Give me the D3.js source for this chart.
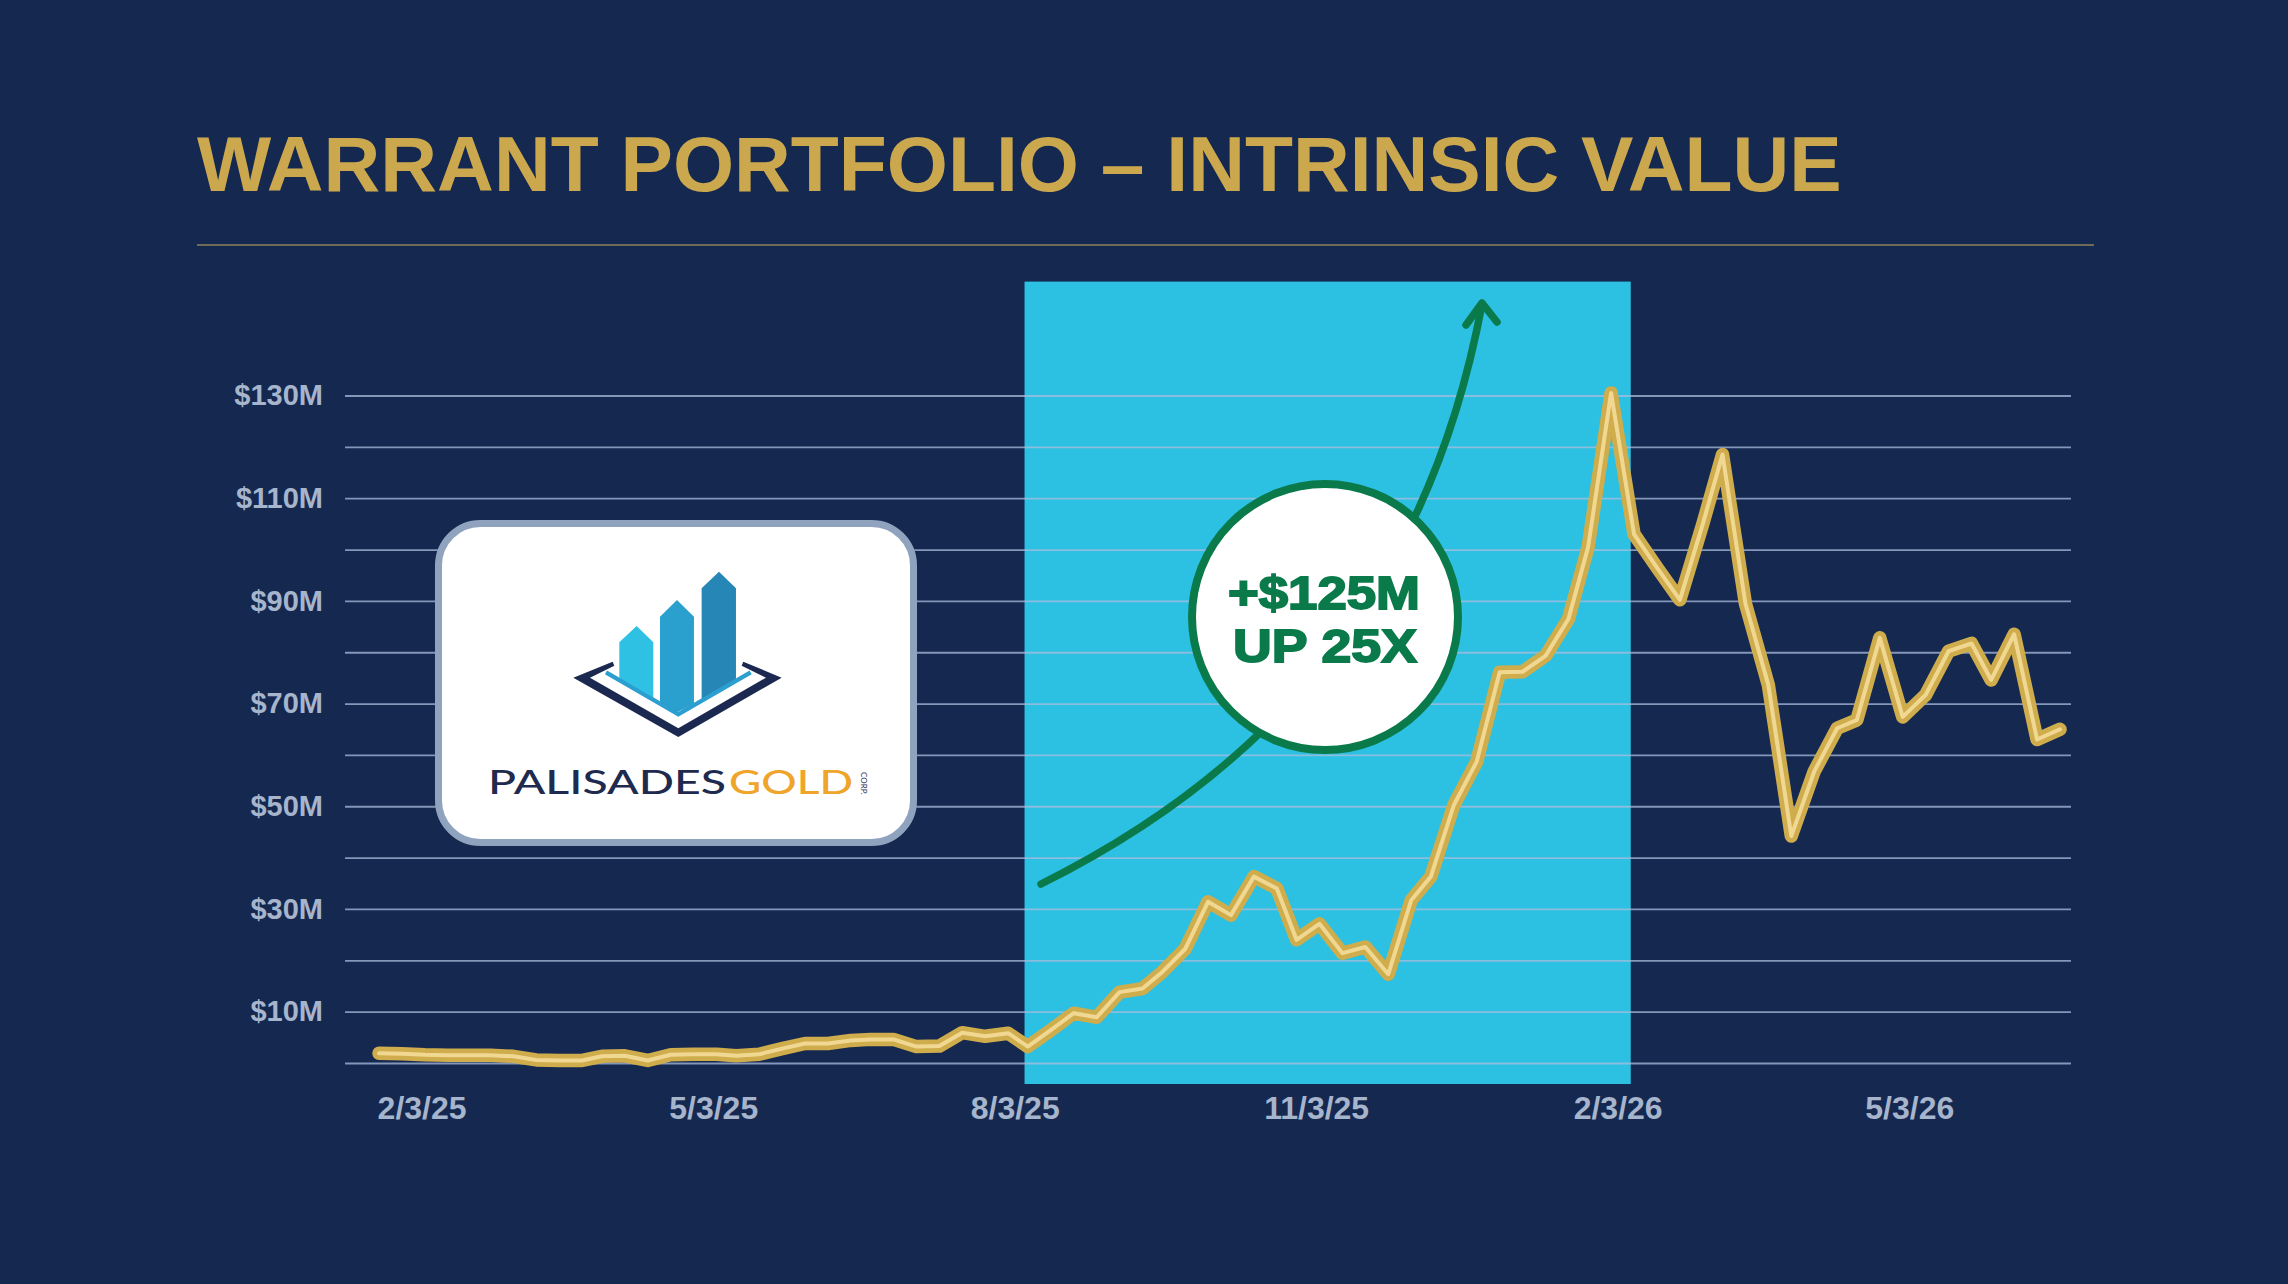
<!DOCTYPE html>
<html>
<head>
<meta charset="utf-8">
<script src="https://cdn.jsdelivr.net/npm/d3@7"></script>
<style>
  html, body { margin: 0; padding: 0; background: #152850; }
  svg { display: block; }
</style>
</head>
<body>
<div id="chart"></div>
<script>
// weekly-ish observations of intrinsic value ($M)
const dates = [
  "2025-01-21", "2025-01-28", "2025-02-04", "2025-02-11", "2025-02-17", "2025-02-24",
  "2025-03-03", "2025-03-10", "2025-03-17", "2025-03-24", "2025-03-30", "2025-04-06",
  "2025-04-13", "2025-04-20", "2025-04-27", "2025-05-04", "2025-05-10", "2025-05-17",
  "2025-05-24", "2025-05-31", "2025-06-07", "2025-06-14", "2025-06-20", "2025-06-27",
  "2025-07-04", "2025-07-11", "2025-07-18", "2025-07-25", "2025-08-01", "2025-08-07",
  "2025-08-14", "2025-08-21", "2025-08-28", "2025-09-04", "2025-09-11", "2025-09-17",
  "2025-09-24", "2025-10-01", "2025-10-08", "2025-10-15", "2025-10-22", "2025-10-28",
  "2025-11-04", "2025-11-11", "2025-11-18", "2025-11-25", "2025-12-02", "2025-12-08",
  "2025-12-15", "2025-12-22", "2025-12-29", "2026-01-05", "2026-01-12", "2026-01-19",
  "2026-01-25", "2026-02-01", "2026-02-08", "2026-02-15", "2026-02-22", "2026-03-01",
  "2026-03-07", "2026-03-14", "2026-03-21", "2026-03-28", "2026-04-04", "2026-04-11",
  "2026-04-17", "2026-04-24", "2026-05-01", "2026-05-08", "2026-05-15", "2026-05-22",
  "2026-05-28", "2026-06-04", "2026-06-11", "2026-06-18"
];
const values = [
  1.9, 1.8, 1.6, 1.5, 1.5, 1.5, 1.3, 0.6, 0.5, 0.5,
  1.3, 1.4, 0.5, 1.6, 1.7, 1.7, 1.4, 1.7, 2.8, 3.8,
  3.8, 4.4, 4.6, 4.6, 3.2, 3.3, 5.9, 5.2, 5.8, 3.2,
  6.4, 9.7, 8.9, 13.8, 14.5, 17.7, 22.2, 31.4, 28.8, 36.3,
  34.0, 24.0, 27.1, 21.4, 22.6, 17.3, 31.7, 36.3, 50.2, 58.7,
  76.1, 76.2, 79.3, 86.5, 100.5, 130.5, 103.0, 96.5, 90.2, 105.0,
  118.5, 89.5, 73.6, 44.2, 56.8, 65.2, 66.8, 82.8, 67.4, 71.7,
  80.2, 81.7, 74.6, 83.5, 63.0, 65.0
];
const yLabelTicks = [10, 30, 50, 70, 90, 110, 130];
const gridTicks = [0, 10, 20, 30, 40, 50, 60, 70, 80, 90, 100, 110, 120, 130];
const xTickDates = ["2025-02-03", "2025-05-03", "2025-08-03", "2025-11-03", "2026-02-03", "2026-05-03"];
const highlight = ["2025-08-06", "2026-02-07"];

const W = 2288, H = 1284;
const parse = d3.timeParse("%Y-%m-%d");
const data = dates.map((d, i) => ({ date: parse(d), value: values[i] }));

const svg = d3.select("#chart").append("svg")
  .attr("width", W).attr("height", H);

svg.append("rect").attr("width", W).attr("height", H).attr("fill", "#152850");

// title
svg.append("text")
  .attr("x", 197).attr("y", 191)
  .attr("fill", "#CBA84D")
  .attr("font-family", "'Liberation Sans', Arial, sans-serif")
  .attr("font-weight", "bold")
  .attr("font-size", 78.6)
  .text("WARRANT PORTFOLIO – INTRINSIC VALUE");

svg.append("line")
  .attr("x1", 197).attr("x2", 2094).attr("y1", 245).attr("y2", 245)
  .attr("stroke", "#8E8259").attr("stroke-width", 1.6);

// scales
const x = d3.scaleTime()
  .domain(d3.extent(data, d => d.date))
  .range([379, 2060]);
const y = d3.scaleLinear().domain([0, 130]).range([1063, 395.5]);

const gridLeft = 345, gridRight = 2071;

// highlighted period
svg.append("rect")
  .attr("x", x(parse(highlight[0])))
  .attr("width", x(parse(highlight[1])) - x(parse(highlight[0])))
  .attr("y", 281.6)
  .attr("height", 1084 - 281.6)
  .attr("fill", "#2CC0E2");

// gridlines
const grid = svg.append("g")
  .attr("transform", `translate(${gridLeft},0)`)
  .call(d3.axisLeft(y).tickValues(gridTicks).tickSize(-(gridRight - gridLeft)).tickFormat(""));
grid.select(".domain").remove();
grid.selectAll("line")
  .attr("stroke", "#A9BCDC").attr("stroke-opacity", 0.75).attr("stroke-width", 1.8);

// y axis labels
const yAxis = svg.append("g")
  .attr("transform", `translate(${gridLeft},0)`)
  .call(d3.axisLeft(y).tickValues(yLabelTicks).tickSize(0).tickPadding(22).tickFormat(d => `$${d}M`));
yAxis.select(".domain").remove();
yAxis.selectAll("text")
  .attr("fill", "#A6B5CC")
  .attr("font-family", "'Liberation Sans', Arial, sans-serif")
  .attr("font-weight", "bold")
  .attr("font-size", 29);

// x axis labels
const xAxis = svg.append("g")
  .attr("transform", `translate(0,${y(0)})`)
  .call(d3.axisBottom(x).tickValues(xTickDates.map(parse)).tickSize(0).tickPadding(33)
    .tickFormat(d3.timeFormat("%-m/%-d/%y")));
xAxis.select(".domain").remove();
xAxis.selectAll("text")
  .attr("fill", "#A6B5CC")
  .attr("font-family", "'Liberation Sans', Arial, sans-serif")
  .attr("font-weight", "bold")
  .attr("font-size", 32);

// logo card
const logo = svg.append("g");
logo.append("rect")
  .attr("x", 438.5).attr("y", 523.5).attr("width", 475).attr("height", 319)
  .attr("rx", 42).attr("fill", "#ffffff")
  .attr("stroke", "#8FA3BE").attr("stroke-width", 7);

const mark = logo.append("g").attr("transform", "translate(430,515) scale(0.3333)");
mark.append("polygon")
  .attr("points", "568,382 620,333 670,382 670,548 568,490")
  .attr("fill", "#2FC1E3");
mark.append("polygon")
  .attr("points", "690,305 741,255 792,305 792,566 741,592 690,562")
  .attr("fill", "#2AA0CE");
mark.append("polygon")
  .attr("points", "815,220 867,170 918,220 918,500 815,556")
  .attr("fill", "#2686B5");
mark.append("polyline")
  .attr("points", "528,472 745,598 962,472")
  .attr("fill", "none").attr("stroke", "#2A9FD0").attr("stroke-width", 13);
mark.append("polygon")
  .attr("points", "430,488 548,440 553,452 480,488 745,640 1008,488 935,452 940,440 1055,488 745,666")
  .attr("fill", "#1B2850");

logo.append("text")
  .attr("x", 488).attr("y", 794)
  .attr("textLength", 238).attr("lengthAdjust", "spacingAndGlyphs")
  .attr("fill", "#1E2A4E")
  .attr("font-family", "Lato, 'Open Sans', sans-serif")
  .attr("font-weight", 500).attr("font-size", 33)
  .text("PALISADES");
logo.append("text")
  .attr("x", 729).attr("y", 794)
  .attr("textLength", 124).attr("lengthAdjust", "spacingAndGlyphs")
  .attr("fill", "#EFA42A")
  .attr("font-family", "Lato, 'Open Sans', sans-serif")
  .attr("font-weight", 500).attr("font-size", 33)
  .text("GOLD");
logo.append("text")
  .attr("transform", "translate(861,772) rotate(90)")
  .attr("fill", "#1E2A4E")
  .attr("font-family", "Lato, sans-serif")
  .attr("font-size", 8)
  .text("CORP.");

// growth arrow
const green = "#0A7A4B";
svg.append("path")
  .attr("d", "M1041,884 C1250,780 1425,610 1482,304")
  .attr("fill", "none").attr("stroke", green).attr("stroke-width", 7.5)
  .attr("stroke-linecap", "round");
svg.append("polyline")
  .attr("points", "1466,325 1482,303 1497,322")
  .attr("fill", "none").attr("stroke", green).attr("stroke-width", 7.5)
  .attr("stroke-linecap", "round").attr("stroke-linejoin", "round");

svg.append("circle")
  .attr("cx", 1325).attr("cy", 617).attr("r", 133)
  .attr("fill", "#ffffff").attr("stroke", green).attr("stroke-width", 8);
svg.append("text")
  .attr("x", 1324).attr("y", 608.5).attr("text-anchor", "middle")
  .attr("textLength", 192).attr("lengthAdjust", "spacingAndGlyphs")
  .attr("fill", green).attr("stroke", green).attr("stroke-width", 1.8)
  .attr("font-family", "'Liberation Sans', Arial, sans-serif")
  .attr("font-weight", "bold").attr("font-size", 46)
  .text("+$125M");
svg.append("text")
  .attr("x", 1325).attr("y", 662).attr("text-anchor", "middle")
  .attr("textLength", 184).attr("lengthAdjust", "spacingAndGlyphs")
  .attr("fill", green).attr("stroke", green).attr("stroke-width", 1.8)
  .attr("font-family", "'Liberation Sans', Arial, sans-serif")
  .attr("font-weight", "bold").attr("font-size", 46)
  .text("UP 25X");

// value line: gold body with a pale core
const line = d3.line().x(d => x(d.date)).y(d => y(d.value));
svg.append("path").datum(data)
  .attr("d", line)
  .attr("fill", "none").attr("stroke", "#CFAC4C").attr("stroke-width", 13.5)
  .attr("stroke-linejoin", "round").attr("stroke-linecap", "round");
svg.append("path").datum(data)
  .attr("d", line)
  .attr("fill", "none").attr("stroke", "#F1D892").attr("stroke-width", 4)
  .attr("stroke-linejoin", "round").attr("stroke-linecap", "round");
</script>
</body>
</html>
